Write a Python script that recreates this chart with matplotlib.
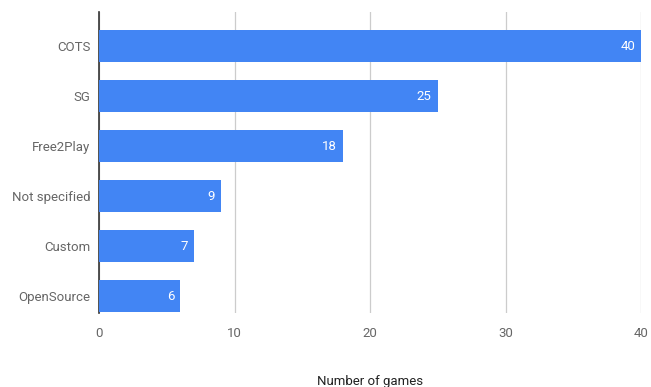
import matplotlib.pyplot as plt

categories = ["COTS", "SG", "Free2Play", "Not specified", "Custom", "OpenSource"]
games = [40, 25, 18, 9, 7, 6]
x_ticks = [0, 10, 20, 30, 40]

plt.rcParams['font.family'] = ['Roboto', 'DejaVu Sans']

fig = plt.figure(figsize=(6.51, 3.87), dpi=100)
ax = fig.add_axes([0.152, 0.191, 0.833, 0.778])

pos = range(len(categories))
bars = ax.barh(pos, games, height=0.64, color="#4285F4", zorder=3)
for b, v in zip(bars, games):
    ax.text(v - 0.45, b.get_y() + b.get_height() / 2, str(v), color="white",
            ha="right", va="center", fontsize=9.5, zorder=4)

ax.set_yticks(list(pos))
ax.set_yticklabels(categories)
ax.set_ylim(5.34, -0.68)
ax.set_xlim(0, 40)
ax.set_xticks(x_ticks)
ax.grid(axis="x", color="#cccccc", linewidth=0.9, zorder=0)
for s in ["top", "right", "bottom"]:
    ax.spines[s].set_visible(False)
ax.spines["left"].set_color("#333333")
ax.spines["left"].set_linewidth(1.2)
ax.tick_params(length=0, labelsize=9.5, labelcolor="#666666")
ax.tick_params(axis="y", pad=6)
ax.tick_params(axis="x", pad=10)
ax.set_xlabel("Number of games", fontsize=9.5, color="#222222", labelpad=25)

fig.savefig("out.png", dpi=100)
